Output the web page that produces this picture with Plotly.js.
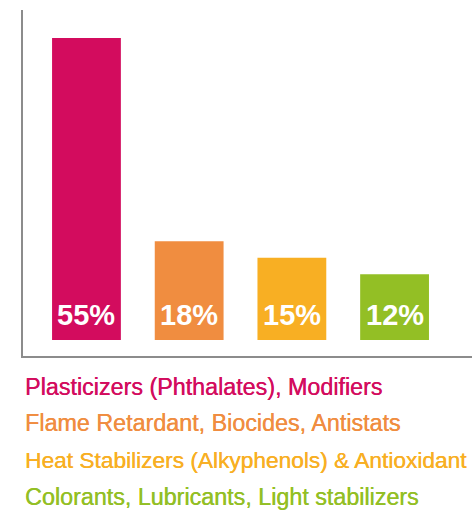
<!DOCTYPE html>
<html>
<head>
<meta charset="utf-8">
<script src="https://cdn.plot.ly/plotly-3.0.1.min.js"></script>
<style>html,body{margin:0;padding:0;background:#fff;}#chart{width:475px;height:510px;}</style>
</head>
<body>
<div id="chart"></div>
<script>
const categories = [
  "Plasticizers (Phthalates), Modifiers",
  "Flame Retardant, Biocides, Antistats",
  "Heat Stabilizers (Alkyphenols) & Antioxidant",
  "Colorants, Lubricants, Light stabilizers"
];
const shares = [55, 18, 15, 12];
const valueLabels = ["55%", "18%", "15%", "12%"];
const colors = ["#D30C5E", "#F08D40", "#F8AF23", "#93BF25"];

const xIdx = categories.map((c, i) => i);

const trace = {
  type: "bar",
  x: xIdx,
  y: shares,
  width: 0.67,
  marker: { color: colors, line: { width: 0 } },
  hoverinfo: "none",
  showlegend: false
};

const annotations = [];
shares.forEach((v, i) => {
  annotations.push({
    x: i, y: 0, xref: "x", yref: "y",
    text: "<b>" + valueLabels[i] + "</b>",
    showarrow: false, yanchor: "bottom", yshift: 7,
    font: { family: "Liberation Sans, Arial, sans-serif", size: 29, color: "#ffffff" }
  });
});
const legendY = [-0.091, -0.194, -0.3006, -0.4075];
const legendSize = [23.3, 23.3, 22.7, 23.3];
categories.forEach((c, i) => {
  annotations.push({
    x: 0, y: legendY[i], xref: "paper", yref: "paper",
    text: c, showarrow: false, xanchor: "left", yanchor: "middle",
    font: { family: "Liberation Sans, Arial, sans-serif", size: legendSize[i], color: colors[i],
            shadow: "0.35px 0 0 " + colors[i] }
  });
});

const layout = {
  width: 475, height: 510,
  margin: { l: 23, r: 3, t: 10, b: 154, pad: 0 },
  paper_bgcolor: "#ffffff", plot_bgcolor: "#ffffff",
  xaxis: { range: [-0.618, 3.754], showline: true, linecolor: "#8c8c8c", linewidth: 2,
           showgrid: false, zeroline: false, showticklabels: false, ticks: "", fixedrange: true },
  yaxis: { range: [-2.91, 60.1], showline: true, linecolor: "#8c8c8c", linewidth: 2,
           showgrid: false, zeroline: false, showticklabels: false, ticks: "", fixedrange: true },
  annotations: annotations,
  showlegend: false
};

Plotly.newPlot("chart", [trace], layout, { displayModeBar: false, staticPlot: true });
</script>
</body>
</html>
